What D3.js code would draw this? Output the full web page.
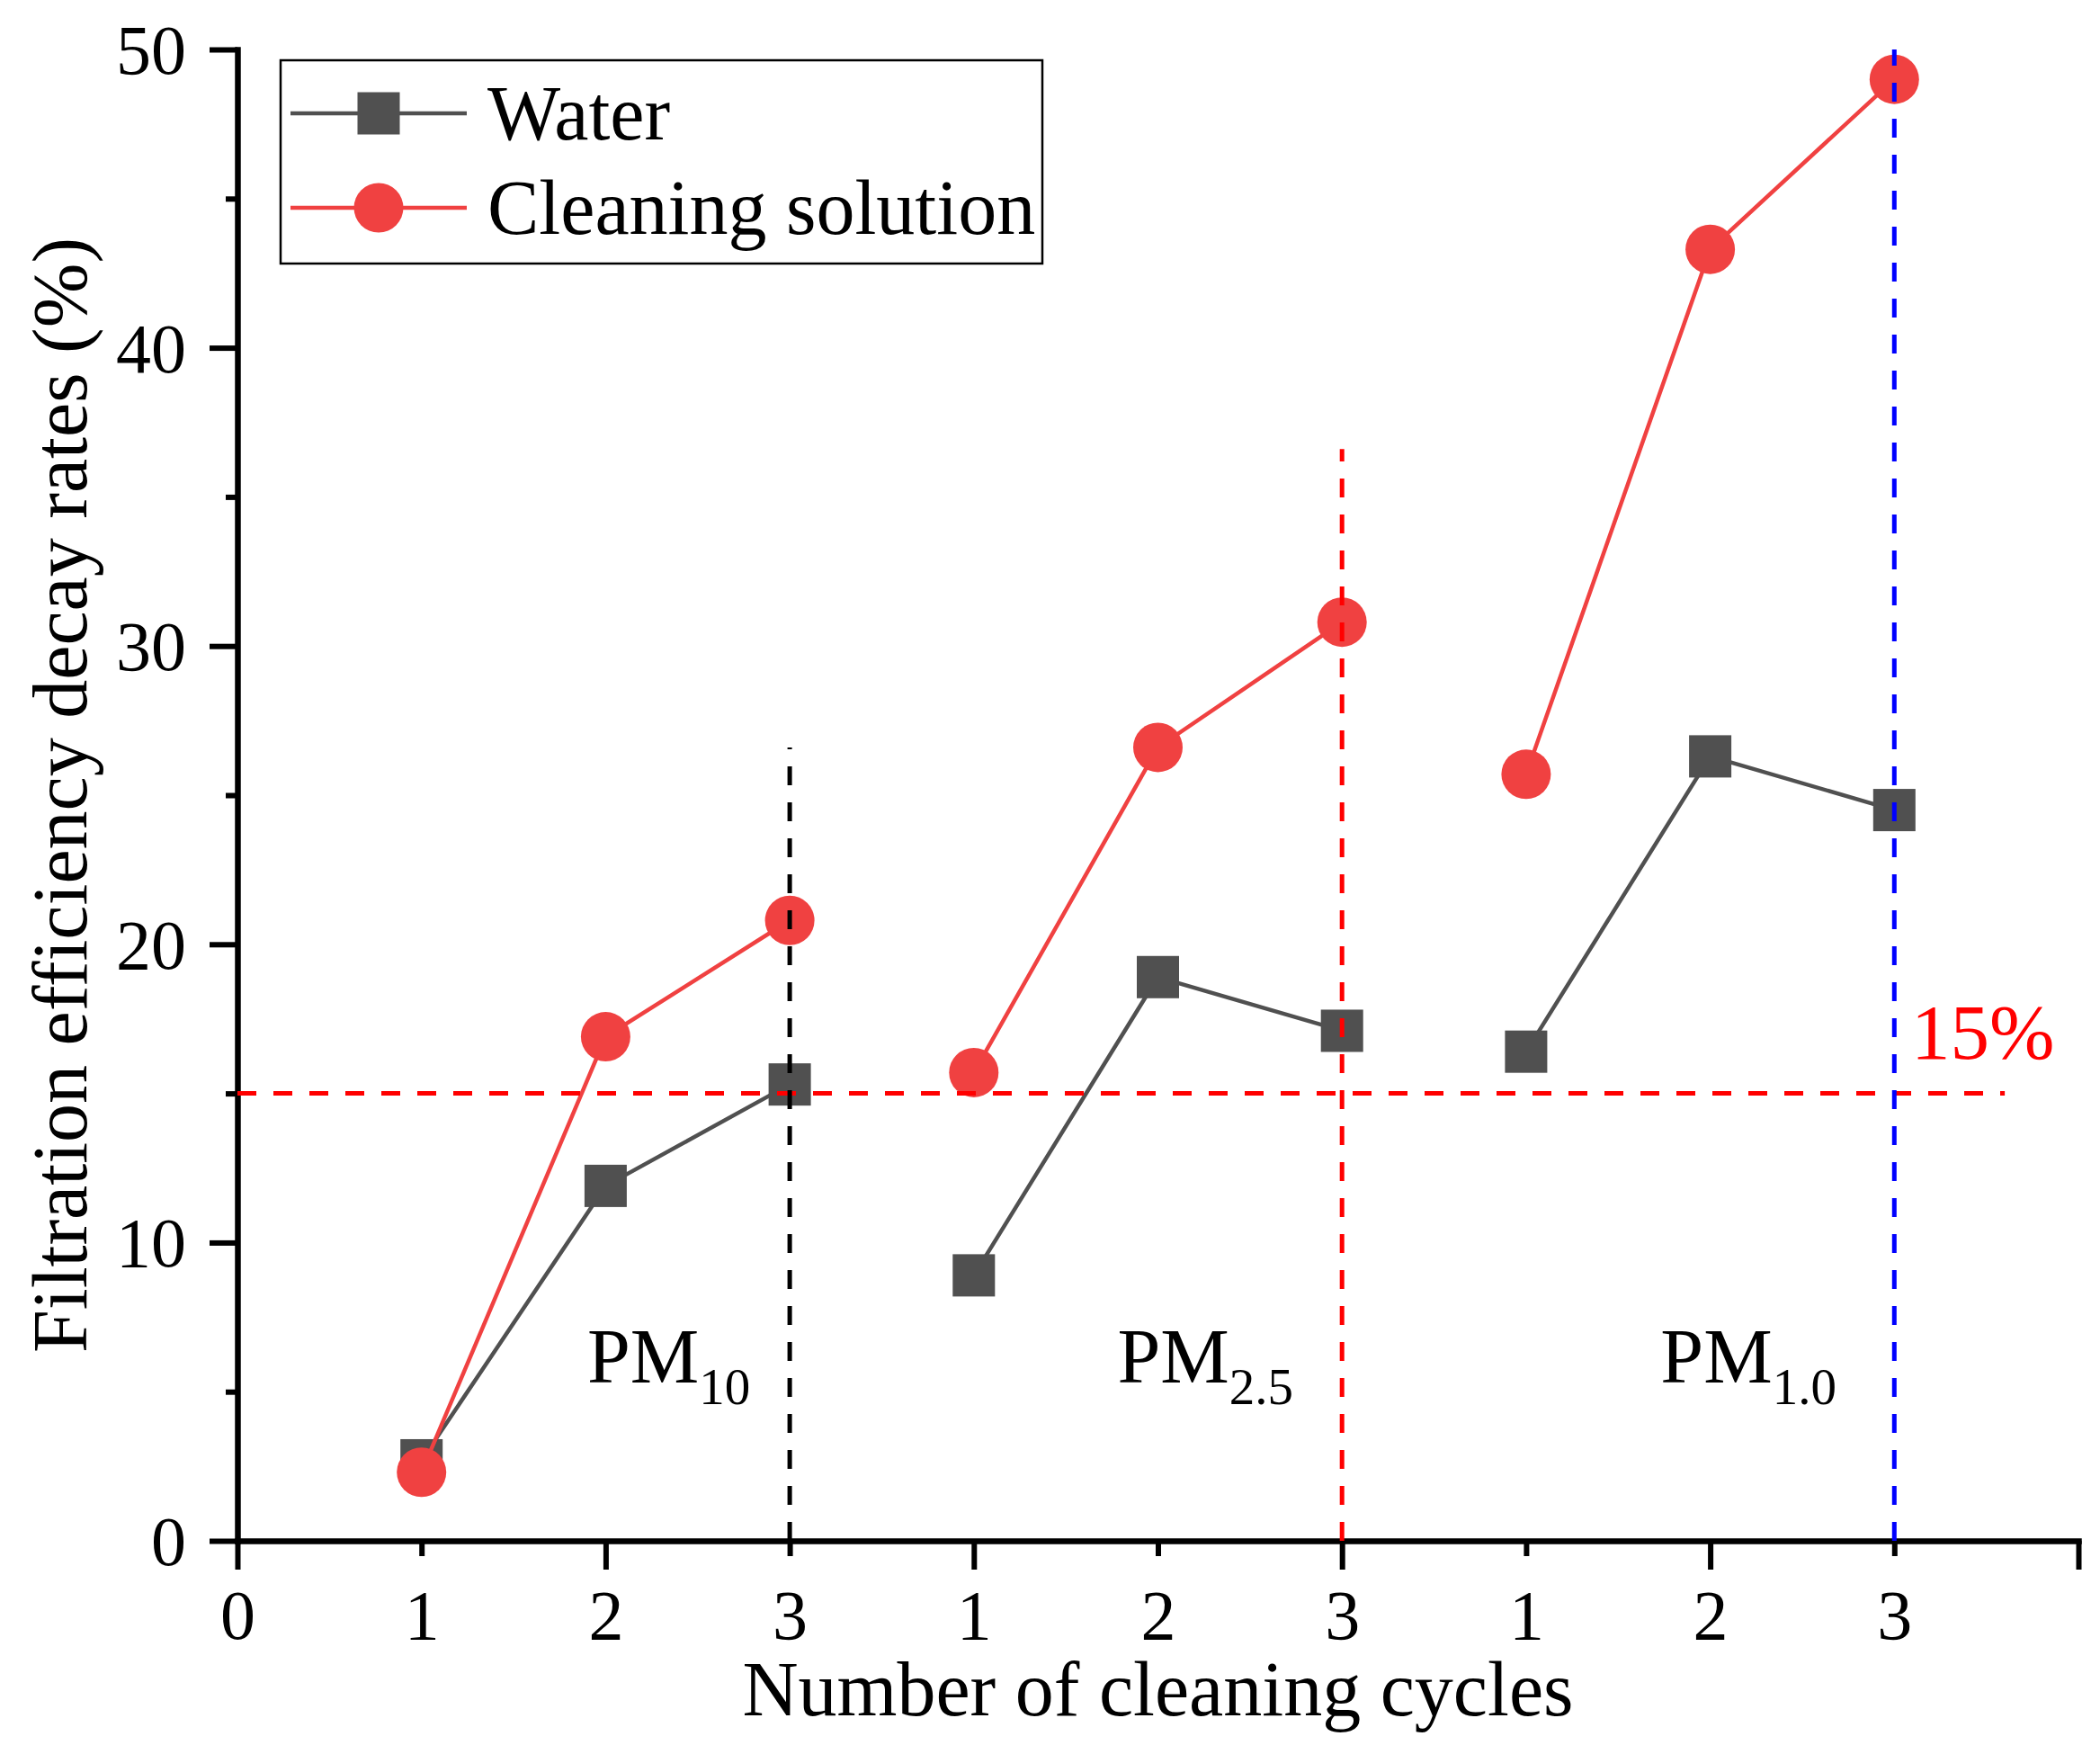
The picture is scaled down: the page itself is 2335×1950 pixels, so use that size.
<!DOCTYPE html>
<html>
<head>
<meta charset="utf-8">
<script src="https://cdn.jsdelivr.net/npm/d3@7"></script>
<style>
  body { margin: 0; background: #fff; }
  svg { display: block; font-family: "Liberation Serif", "Times New Roman", serif; }
</style>
</head>
<body>
<div id="chart"></div>
<script>
// 数据
const cycles = [1, 2, 3, 4, 5, 6, 7, 8, 9];
const waterValues = [2.7, 11.9, 15.3, 8.9, 18.9, 17.1, 16.4, 26.3, 24.5];
const cleaningValues = [2.3, 16.9, 20.8, 15.7, 26.6, 30.8, 25.7, 43.3, 49.0];
const xTickLabels = ["0", "1", "2", "3", "1", "2", "3", "1", "2", "3", ""];
const yTickValues = [0, 5, 10, 15, 20, 25, 30, 35, 40, 45, 50];
const seriesNames = ["Water", "Cleaning solution"];
// 分组标注 (PM10 / PM2.5 / PM1.0)
const groupLabels = [
  { sub: "10", x: 1.9 },
  { sub: "2.5", x: 4.78 },
  { sub: "1.0", x: 7.73 }
];
// 分组分隔线: x 位置, 顶端值, 颜色
const dividerX = [3, 6, 9];
const dividerTop = [26.6, 36.6, 50];
const dividerColors = ["#000000", "#ff0000", "#0000ff"];
const thresholdValue = 15;
const thresholdEnd = 9.6;

const width = 2335, height = 1950;
const waterColor = "#505050", cleanColor = "#f04141";

const svg = d3.select("#chart").append("svg")
  .attr("width", width)
  .attr("height", height);

const x = d3.scaleLinear().domain([0, 10]).range([264, 2311]);
const y = d3.scaleLinear().domain([0, 50]).range([1713, 55]);

// X 轴
const xAxis = svg.append("g")
  .attr("transform", `translate(0,${y(0)})`)
  .call(d3.axisBottom(x)
    .tickValues(d3.range(0, 11))
    .tickSizeOuter(0)
    .tickFormat((d, i) => xTickLabels[i]))
  .attr("font-family", null)
  .attr("font-size", null);
xAxis.select(".domain").attr("stroke-width", 6.5).attr("stroke-linecap", "square");
xAxis.selectAll(".tick line")
  .attr("stroke-width", 6)
  .attr("y2", d => d % 2 === 0 ? 32 : 17);
xAxis.selectAll(".tick text")
  .attr("y", 109).attr("dy", null)
  .attr("font-size", 78)
  .attr("fill", "#000");
xAxis.selectAll(".tick text").filter(function () { return this.textContent === ""; }).remove();

// Y 轴
const yAxis = svg.append("g")
  .attr("transform", `translate(${x(0)},0)`)
  .call(d3.axisLeft(y)
    .tickValues(yTickValues)
    .tickSizeOuter(0)
    .tickFormat(d => d % 10 === 0 ? d : ""))
  .attr("font-family", null)
  .attr("font-size", null);
yAxis.select(".domain").attr("stroke-width", 6.5).attr("stroke-linecap", "square");
yAxis.selectAll(".tick line")
  .attr("stroke-width", 6)
  .attr("x2", d => d % 10 === 0 ? -31 : -13);
yAxis.selectAll(".tick text")
  .attr("x", -57).attr("dy", "0.34em")
  .attr("font-size", 78)
  .attr("fill", "#000");
yAxis.selectAll(".tick text").filter(function () { return this.textContent === ""; }).remove();

// 轴标题
svg.append("text")
  .attr("x", (x(0) + x(10)) / 2)
  .attr("y", 1907)
  .attr("text-anchor", "middle")
  .attr("font-size", 86)
  .text("Number of cleaning cycles");

svg.append("text")
  .attr("transform", `translate(96,${(y(0) + y(50)) / 2}) rotate(-90)`)
  .attr("text-anchor", "middle")
  .attr("font-size", 86)
  .text("Filtration efficiency decay rates (%)");

// 折线: 每组三点单独连接
const line = d3.line().x(d => x(d[0])).y(d => y(d[1]));
function segments(values) {
  return [0, 3, 6].map(s => cycles.slice(s, s + 3).map((c, i) => [c, values[s + i]]));
}

const waterG = svg.append("g");
waterG.selectAll("path").data(segments(waterValues)).enter().append("path")
  .attr("d", line)
  .attr("fill", "none")
  .attr("stroke", waterColor)
  .attr("stroke-width", 4.5);
waterG.selectAll("rect").data(cycles).enter().append("rect")
  .attr("x", (d) => x(d) - 23.5)
  .attr("y", (d, i) => y(waterValues[i]) - 23.5)
  .attr("width", 47).attr("height", 47)
  .attr("fill", waterColor);

const cleanG = svg.append("g");
cleanG.selectAll("path").data(segments(cleaningValues)).enter().append("path")
  .attr("d", line)
  .attr("fill", "none")
  .attr("stroke", cleanColor)
  .attr("stroke-width", 4.5);
cleanG.selectAll("circle").data(cycles).enter().append("circle")
  .attr("cx", d => x(d))
  .attr("cy", (d, i) => y(cleaningValues[i]))
  .attr("r", 27.5)
  .attr("fill", cleanColor);

// 15% 阈值线
svg.append("line")
  .attr("x1", x(0)).attr("x2", x(thresholdEnd))
  .attr("y1", y(thresholdValue)).attr("y2", y(thresholdValue))
  .attr("stroke", "#ff0000")
  .attr("stroke-width", 5)
  .attr("stroke-dasharray", "21,19");

svg.append("text")
  .attr("x", 2125)
  .attr("y", 1177)
  .attr("font-size", 87)
  .attr("fill", "#ff0000")
  .text("15%");

// 分组竖线
svg.selectAll("line.divider").data(dividerX).enter().append("line")
  .attr("class", "divider")
  .attr("x1", d => x(d)).attr("x2", d => x(d))
  .attr("y1", y(0)).attr("y2", (d, i) => y(dividerTop[i]))
  .attr("stroke", (d, i) => dividerColors[i])
  .attr("stroke-width", 5)
  .attr("stroke-dasharray", "21,19");

// PM 标注
groupLabels.forEach(g => {
  const t = svg.append("text")
    .attr("x", x(g.x))
    .attr("y", 1537)
    .attr("font-size", 86);
  t.append("tspan").text("PM");
  t.append("tspan").attr("font-size", 57).attr("dy", 24).text(g.sub);
});

// 图例
const legend = svg.append("g");
legend.append("rect")
  .attr("x", 312).attr("y", 67)
  .attr("width", 847).attr("height", 226)
  .attr("fill", "#fff")
  .attr("stroke", "#000")
  .attr("stroke-width", 2.5);

const legendY = [126, 231];
seriesNames.forEach((name, i) => {
  const color = i === 0 ? waterColor : cleanColor;
  legend.append("line")
    .attr("x1", 323).attr("x2", 519)
    .attr("y1", legendY[i]).attr("y2", legendY[i])
    .attr("stroke", color).attr("stroke-width", 4.5);
  if (i === 0) {
    legend.append("rect")
      .attr("x", 421 - 23.5).attr("y", legendY[i] - 23.5)
      .attr("width", 47).attr("height", 47)
      .attr("fill", color);
  } else {
    legend.append("circle")
      .attr("cx", 421).attr("cy", legendY[i])
      .attr("r", 27.5).attr("fill", color);
  }
  legend.append("text")
    .attr("x", 542)
    .attr("y", legendY[i] + 29)
    .attr("font-size", 86)
    .text(name);
});
</script>
</body>
</html>
